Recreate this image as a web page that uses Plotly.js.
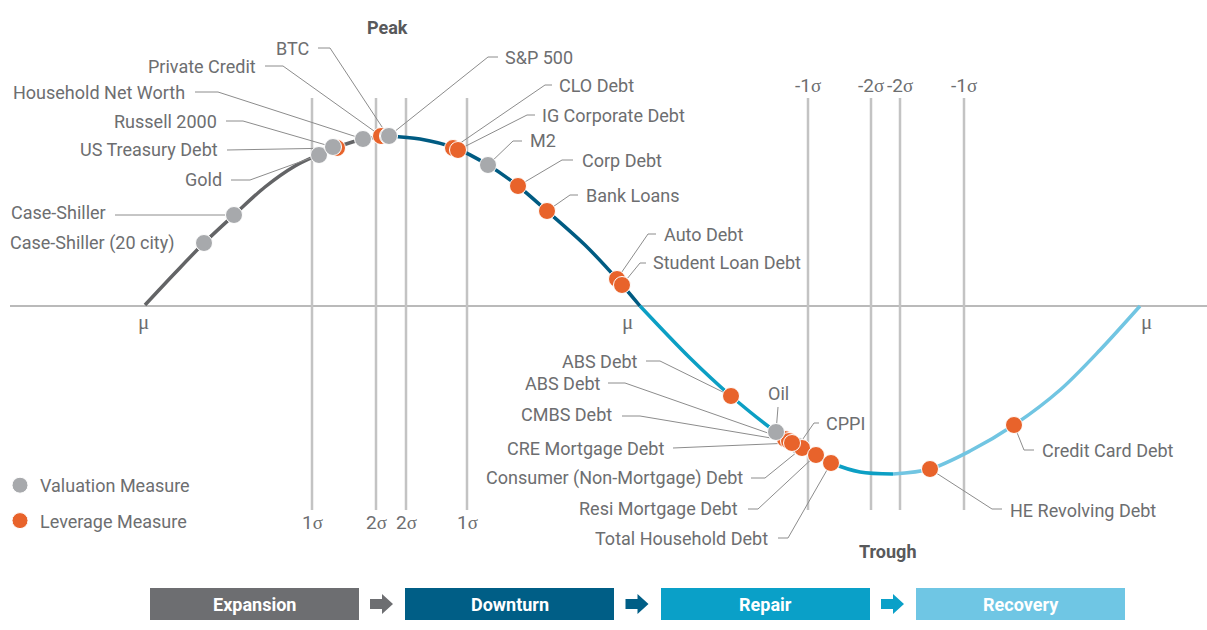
<!DOCTYPE html>
<html><head><meta charset="utf-8">
<script src="https://cdn.plot.ly/plotly-3.0.1.min.js"></script>
<style>html,body{margin:0;padding:0;background:#fff}#chart{width:1207px;height:630px}</style>
</head><body><div id="chart"></div>
<script>
// ---- cycle curve (position along cycle, level relative to the mean line) ----
const expansionX = [145,175,204,234,265,295,318,340,364,388];
const expansionY = [1,33,63,91,119,140,151,160,167,170];
const downturnX  = [388,420,455,488,518,547,585,617,640];
const downturnY  = [170,167,158,141,120,95,61,27,0];
const repairX    = [640,690,731,776,802,831,860,893];
const repairY    = [0,-52,-90,-126,-143,-157,-166,-168];
const recoveryX  = [893,930,970,1014,1060,1100,1140];
const recoveryY  = [-168,-163,-145,-119,-84,-44,0];

// ---- measures placed on the cycle ----
const measureNames = ['Case-Shiller (20 city)','Case-Shiller','Gold','US Treasury Debt','Russell 2000',
  'Household Net Worth','Private Credit','BTC','S&P 500','CLO Debt','IG Corporate Debt','M2','Corp Debt',
  'Bank Loans','Auto Debt','Student Loan Debt','ABS Debt','ABS Debt','Oil','CMBS Debt','CPPI',
  'Consumer (Non-Mortgage) Debt','CRE Mortgage Debt','Resi Mortgage Debt','Total Household Debt',
  'HE Revolving Debt','Credit Card Debt'];
const measureType = ['V','V','V','L','V','V','L','V','V','L','L','V','L','L','L','L','L','L','V','L','V',
  'L','L','L','L','L','L'];
const measureX = [204,234,319,337,333,363,381,388,389,453,458,488,518,547,617,622,731,785,776,789,798,
  802,792,816,831,930,1014];
const measureY = [63,91,151,158,159,167,170,170,170,158,156,141,120,95,27,21,-90,-133,-126,-135,-140,
  -142,-137,-149,-157,-163,-119];

// ---- sigma bands, means, phases ----
const sigmaX = [312,376,406,467,808,871,900,964];
const sigmaLabels = ['1σ','2σ','2σ','1σ','-1σ','-2σ','-2σ','-1σ'];
const meanX = [143,627,1146];
const phases = ['Expansion','Downturn','Repair','Recovery'];

// ---- layout helpers (pixel positions of labels/leaders) ----
const Y0 = 306;               // pixel row of the mean line
const lv = p => Y0 - p;       // pixel row -> level
const labelLayout = [
  ['right',177,243,[]],
  ['right',108,212,[[115,215]]],
  ['right',224,179,[[231,180],[250,180]]],
  ['right',220,149,[[227,150]]],
  ['right',219,121,[[226,121],[243,121]]],
  ['right',187,92,[[195,92],[218,92]]],
  ['right',258,66,[[265,66],[283,66]]],
  ['right',311,48,[[318,48],[330,48]]],
  ['left',503,57,[[498,57],[488,57]]],
  ['left',557,85,[[552,85],[545,85]]],
  ['left',540,115,[[535,115],[527,115]]],
  ['left',528,140,[[522,141],[513,141]]],
  ['left',580,160,[[573,160],[562,160]]],
  ['left',584,195,[[578,195],[570,195]]],
  ['left',662,234,[[656,234],[648,234]]],
  ['left',651,262,[[646,263],[640,263]]],
  ['right',640,361,[[646,361],[660,361]]],
  ['right',603,383,[[608,383],[625,383]]],
  ['center',778,393,[[778,407]]],
  ['right',614,414,[[622,416],[640,416]]],
  ['left',824,423,[[819,423],[814,423]]],
  ['right',745,478,[[751,478],[765,478]]],
  ['right',666,448,[[673,448]]],
  ['right',740,508,[[748,509],[758,509]]],
  ['right',770,538,[[778,538],[788,538]]],
  ['left',1008,510,[[1002,509],[992,509]]],
  ['left',1040,450,[[1034,450],[1024,450]]]
];

const TXT = '#6d6e70', FONT = 'Roboto, Arial, sans-serif';
const GRAY = '#a7a9ac', ORANGE = '#e8632b';
const phaseColors = ['#6d6e71','#005e86','#0aa0c8','#6fc6e4'];
const curveColors = ['#636466','#005b82','#0c9fc4','#71c5e2'];

const traces = [];
const segs = [[expansionX,expansionY],[downturnX,downturnY],[repairX,repairY],[recoveryX,recoveryY]];
segs.forEach((s,i)=>traces.push({type:'scatter',mode:'lines',x:s[0],y:s[1],showlegend:false,hoverinfo:'skip',
  line:{color:curveColors[i],width:3.5,shape:'spline',smoothing:0.9}}));

// leader lines
const lx=[], ly=[];
labelLayout.forEach((L,i)=>{
  if(!L[3].length) return;
  L[3].forEach(p=>{lx.push(p[0]); ly.push(lv(p[1]));});
  lx.push(measureX[i]); ly.push(measureY[i]); lx.push(null); ly.push(null);
});
traces.push({type:'scatter',mode:'lines',x:lx,y:ly,showlegend:false,hoverinfo:'skip',line:{color:'#8c8c8c',width:1}});

function pts(filter){
  const idx = measureNames.map((_,i)=>i).filter(filter);
  return {x:idx.map(i=>measureX[i]), y:idx.map(i=>measureY[i]), text:idx.map(i=>measureNames[i])};
}
const behind = ['CPPI'];
const vb = pts(i=>measureType[i]==='V' && behind.includes(measureNames[i]));
traces.push({type:'scatter',mode:'markers',x:vb.x,y:vb.y,text:vb.text,showlegend:false,hoverinfo:'text',
  marker:{size:17,color:GRAY,line:{color:'#fff',width:1}}});
const lp = pts(i=>measureType[i]==='L');
traces.push({type:'scatter',mode:'markers',name:'Leverage Measure',legendgroup:'l',legendrank:2,x:lp.x,y:lp.y,text:lp.text,hoverinfo:'text',
  marker:{size:17,color:ORANGE,line:{color:'#fff',width:1}}});
const vp = pts(i=>measureType[i]==='V' && !behind.includes(measureNames[i]));
traces.push({type:'scatter',mode:'markers',name:'Valuation Measure',legendgroup:'v',legendrank:1,x:vp.x,y:vp.y,text:vp.text,hoverinfo:'text',
  marker:{size:17,color:GRAY,line:{color:'#fff',width:1}}});

const shapes = [], annotations = [];
// mean line
shapes.push({type:'line',xref:'x',yref:'y',x0:10,x1:1207,y0:0,y1:0,line:{color:'#a3a3a3',width:1.5},layer:'below'});
// sigma lines + labels
const serif = s => s.replace('σ',"<span style='font-family:Liberation Serif'>σ</span>");
sigmaX.forEach((sx,i)=>{
  shapes.push({type:'line',xref:'x',yref:'y',x0:sx,x1:sx,y0:lv(98),y1:lv(510),line:{color:'#c3c3c3',width:2.5},layer:'below'});
  const below = sx < 640;
  annotations.push({x:sx,y:below?lv(522):lv(85),text:serif(sigmaLabels[i]),showarrow:false,xanchor:'center',yanchor:'middle',
    font:{family:FONT,size:19,color:TXT}});
});
meanX.forEach(mx=>annotations.push({x:mx,y:lv(322),text:'μ',showarrow:false,font:{family:'Liberation Serif, serif',size:21,color:TXT}}));
// measure labels
labelLayout.forEach((L,i)=>{
  annotations.push({x:L[1],y:lv(L[2]),text:measureNames[i],showarrow:false,xanchor:L[0],yanchor:'middle',
    font:{family:FONT,size:18,color:TXT}});
});
annotations.push({x:387,y:lv(27),text:'<b>Peak</b>',showarrow:false,font:{family:FONT,size:18,color:'#58595b'}});
annotations.push({x:887,y:lv(551),text:'<b>Trough</b>',showarrow:false,font:{family:FONT,size:18,color:'#58595b'}});
// phase boxes and arrows
const boxStart = [150,405,661,916], boxW = 209;
phases.forEach((p,i)=>{
  const x0 = boxStart[i];
  shapes.push({type:'rect',xref:'x',yref:'y',x0:x0,x1:x0+boxW,y0:lv(588),y1:lv(620),fillcolor:phaseColors[i],line:{width:0}});
  annotations.push({x:x0+boxW/2,y:lv(604),text:'<b>'+p+'</b>',showarrow:false,font:{family:FONT,size:18,color:'#fff'}});
  if(i<phases.length-1){
    const c = (x0+boxW+boxStart[i+1])/2;
    const path = `M ${c-12},${lv(599)} L ${c},${lv(599)} L ${c},${lv(594)} L ${c+11},${lv(604)} L ${c},${lv(614)} L ${c},${lv(609)} L ${c-12},${lv(609)} Z`;
    shapes.push({type:'path',xref:'x',yref:'y',path:path,fillcolor:phaseColors[i],line:{width:0}});
  }
});

const layout = {
  width:1207,height:630,margin:{l:0,r:0,t:0,b:0},paper_bgcolor:'#fff',plot_bgcolor:'#fff',
  xaxis:{range:[0,1207],visible:false,fixedrange:true},
  yaxis:{range:[lv(630),lv(0)],visible:false,fixedrange:true},
  showlegend:true,
  legend:{x:0,y:1-467/630,xanchor:'left',yanchor:'top',traceorder:'grouped',tracegroupgap:9,
    font:{family:FONT,size:18,color:TXT},bgcolor:'rgba(0,0,0,0)'},
  shapes:shapes,annotations:annotations,hovermode:'closest'
};
Plotly.newPlot('chart',traces,layout,{displayModeBar:false,staticPlot:false});
</script></body></html>
